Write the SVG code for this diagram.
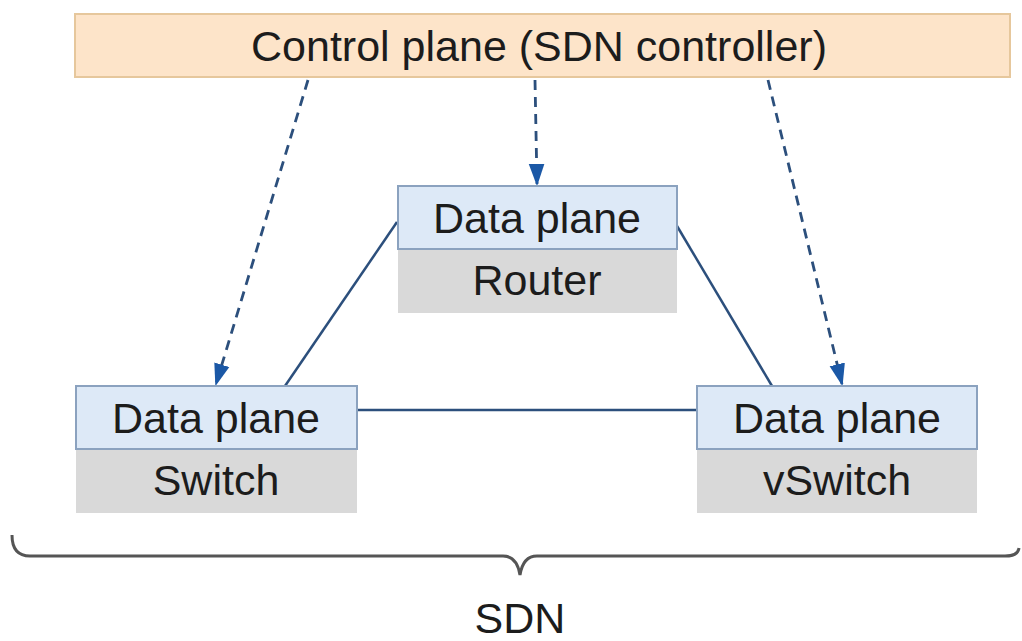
<svg xmlns="http://www.w3.org/2000/svg" width="1022" height="641" viewBox="0 0 1022 641">
<style>
text{font-family:"Liberation Sans",Arial,sans-serif;font-size:43px;fill:#1c1c1c;text-anchor:middle}
.dp{fill:#dde9f7;stroke:#8ba2bf;stroke-width:2}
.dev{fill:#d9d9d9}
.solid{stroke:#2c4f7c;stroke-width:2.5;fill:none}
.dash{stroke:#2c4f7c;stroke-width:2.8;fill:none;stroke-dasharray:10 7}
</style>
<defs>
<marker id="ah" viewBox="0 0 10 10" refX="9" refY="5" markerWidth="8" markerHeight="8" markerUnits="strokeWidth" orient="auto">
<path d="M0,1.5 L10,5 L0,8.5 z" fill="#1b58a6"/>
</marker>
</defs>
<rect width="1022" height="641" fill="#fff"/>
<g id="control">
<rect x="75" y="14" width="935" height="63" fill="#fde4c9" stroke="#e6c79c" stroke-width="2"/>
<text x="539" y="61">Control plane (SDN controller)</text>
</g>
<g id="connectors">
<line class="dash" x1="308" y1="80" x2="216" y2="384" marker-end="url(#ah)"/>
<line class="dash" x1="535" y1="80" x2="537" y2="184" marker-end="url(#ah)"/>
<line class="dash" x1="768" y1="80" x2="842" y2="384" marker-end="url(#ah)"/>
<line class="solid" x1="397" y1="222" x2="285" y2="386"/>
<line class="solid" x1="677" y1="226" x2="772" y2="386"/>
<line class="solid" x1="357" y1="410" x2="697" y2="410"/>
</g>
<g id="router">
<rect class="dev" x="398" y="250" width="279" height="63"/>
<rect class="dp" x="398" y="186" width="279" height="63"/>
<text x="537" y="233">Data plane</text>
<text x="537" y="295">Router</text>
</g>
<g id="switch">
<rect class="dev" x="76" y="449" width="281" height="64"/>
<rect class="dp" x="76" y="386" width="281" height="63"/>
<text x="216" y="433">Data plane</text>
<text x="216" y="495">Switch</text>
</g>
<g id="vswitch">
<rect class="dev" x="697" y="449" width="280" height="64"/>
<rect class="dp" x="697" y="386" width="280" height="63"/>
<text x="837" y="433">Data plane</text>
<text x="837" y="495">vSwitch</text>
</g>
<g id="brace">
<path d="M12,535 Q12,556 30,556 L503,556 Q517,556 520,575 Q523,556 537,556 L1005,556 Q1018,556 1019,548" fill="none" stroke="#555" stroke-width="3"/>
<text x="520" y="633">SDN</text>
</g>
</svg>
